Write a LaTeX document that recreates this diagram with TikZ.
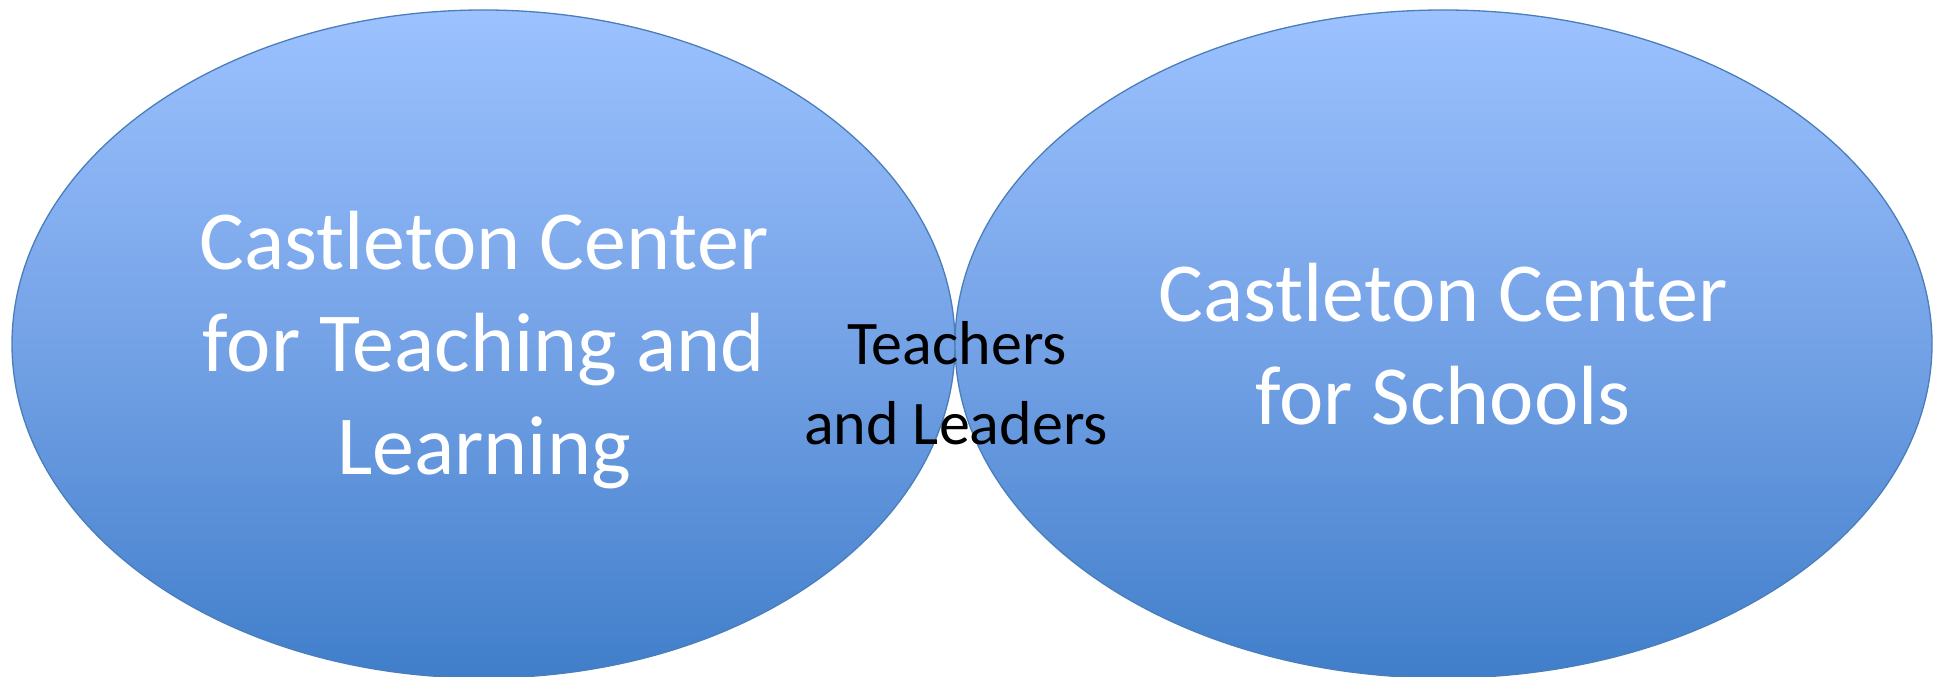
\documentclass[tikz,border=0pt]{standalone}
\usepackage{fontspec}
\setmainfont{Carlito}
\usetikzlibrary{shapes.geometric}
\definecolor{bluetop}{RGB}{156,194,255}
\definecolor{bluemid}{RGB}{116,162,230}
\definecolor{bluebot}{RGB}{64,126,202}
\definecolor{blueline}{RGB}{74,126,187}
\tikzset{
  circ/.style={ellipse, inner sep=0pt, outer sep=0pt, draw=blueline, line width=1.3pt,
    top color=bluetop, bottom color=bluebot, middle color=bluemid},
  bigtxt/.style={text=white, font=\fontsize{84pt}{102pt}\selectfont, inner sep=0pt, anchor=base},
  midtxt/.style={text=black, font=\fontsize{62pt}{80pt}\selectfont, inner sep=0pt, anchor=base}
}
\begin{document}
\begin{tikzpicture}[x=1pt,y=1pt]
\useasboundingbox (0,0) rectangle (1939,677);
\node[circ, minimum width=943pt, minimum height=668pt] (L) at (483.5,333) {};
\node[circ, minimum width=977pt, minimum height=668pt] (R) at (1443.5,333) {};
% left text
\node[bigtxt] (l1) at (484,407) {Castleton Center};
\node[bigtxt] (l2) at (484,305) {for Teaching and};
\node[bigtxt] (l3) at (484,202) {Learning};
% right text
\node[bigtxt] (r1) at (1443,355) {Castleton Center};
\node[bigtxt] (r2) at (1443,252) {for Schools};
% middle text
\node[midtxt] (m1) at (957,312) {Teachers};
\node[midtxt] (m2) at (956,232) {and Leaders};
\end{tikzpicture}
\end{document}
